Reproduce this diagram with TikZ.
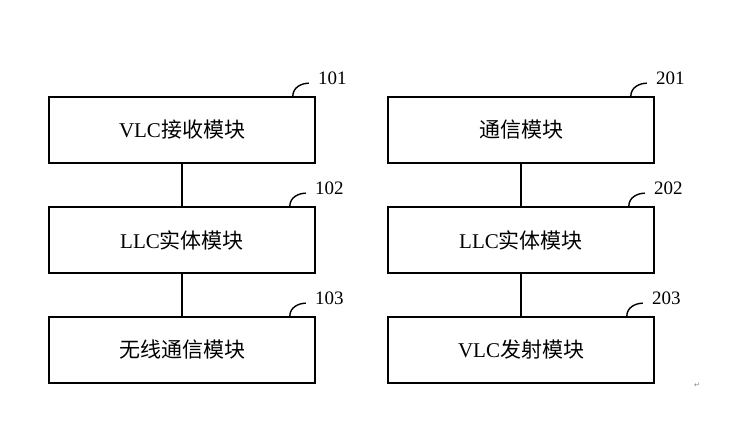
\documentclass[tikz,border=0pt]{standalone}
\usepackage{fontspec}
\setmainfont{Liberation Serif}
\newfontfamily\cjk{Noto Sans CJK SC}
\newfontfamily\symb{DejaVu Sans}
\usetikzlibrary{positioning}
\tikzset{
  module/.style={draw=black, line width=1.6pt, minimum width=266pt, minimum height=66pt, inner sep=0pt, font=\fontsize{21}{24}\selectfont},
  link/.style={line width=1.4pt},
  tag/.style={anchor=base west, inner sep=0pt, font=\fontsize{19}{22}\selectfont}
}

\begin{document}
\begin{tikzpicture}[x=1pt,y=1pt]
\useasboundingbox (0,0) rectangle (735,443);

\node [module] (vlcrx) at (182,313) {VLC{\cjk 接收模块}};
\node [module] (llcl) [below=42.4pt of vlcrx] {LLC{\cjk 实体模块}};
\node [module] (wireless) [below=42.4pt of llcl] {\cjk 无线通信模块};

\node [module] (comm) at (521,313) {\cjk 通信模块};
\node [module] (llcr) [below=42.4pt of comm] {LLC{\cjk 实体模块}};
\node [module] (vlctx) [below=42.4pt of llcr] {VLC{\cjk 发射模块}};

\draw[link] (vlcrx.south) -- (llcl.north);
\draw[link] (llcl.south) -- (wireless.north);
\draw[link] (comm.south) -- (llcr.north);
\draw[link] (llcr.south) -- (vlctx.north);

% reference numerals
\node [tag] (n101) at ([xshift=2pt,yshift=12pt]vlcrx.north east) {101};
\node [tag] (n102) at ([xshift=-1pt,yshift=12pt]llcl.north east) {102};
\node [tag] (n103) at ([xshift=-1pt,yshift=12pt]wireless.north east) {103};
\node [tag] (n201) at ([xshift=1pt,yshift=12pt]comm.north east) {201};
\node [tag] (n202) at ([xshift=-1pt,yshift=12pt]llcr.north east) {202};
\node [tag] (n203) at ([xshift=-3pt,yshift=12pt]vlctx.north east) {203};

\draw[link] ([xshift=-23pt]vlcrx.north east) .. controls +(0,9pt) and +(-7pt,0) .. ([xshift=-9pt,yshift=1pt]n101.base west);
\draw[link] ([xshift=-26pt]llcl.north east) .. controls +(0,9pt) and +(-7pt,0) .. ([xshift=-9pt,yshift=1pt]n102.base west);
\draw[link] ([xshift=-26pt]wireless.north east) .. controls +(0,9pt) and +(-7pt,0) .. ([xshift=-9pt,yshift=1pt]n103.base west);
\draw[link] ([xshift=-24pt]comm.north east) .. controls +(0,9pt) and +(-7pt,0) .. ([xshift=-9pt,yshift=1pt]n201.base west);
\draw[link] ([xshift=-26pt]llcr.north east) .. controls +(0,9pt) and +(-7pt,0) .. ([xshift=-9pt,yshift=1pt]n202.base west);
\draw[link] ([xshift=-28pt]vlctx.north east) .. controls +(0,9pt) and +(-7pt,0) .. ([xshift=-9pt,yshift=1pt]n203.base west);

\node [text=gray, font=\symb\fontsize{7}{8}\selectfont] (pmark) at (697,58) {↵};

\end{tikzpicture}
\end{document}
